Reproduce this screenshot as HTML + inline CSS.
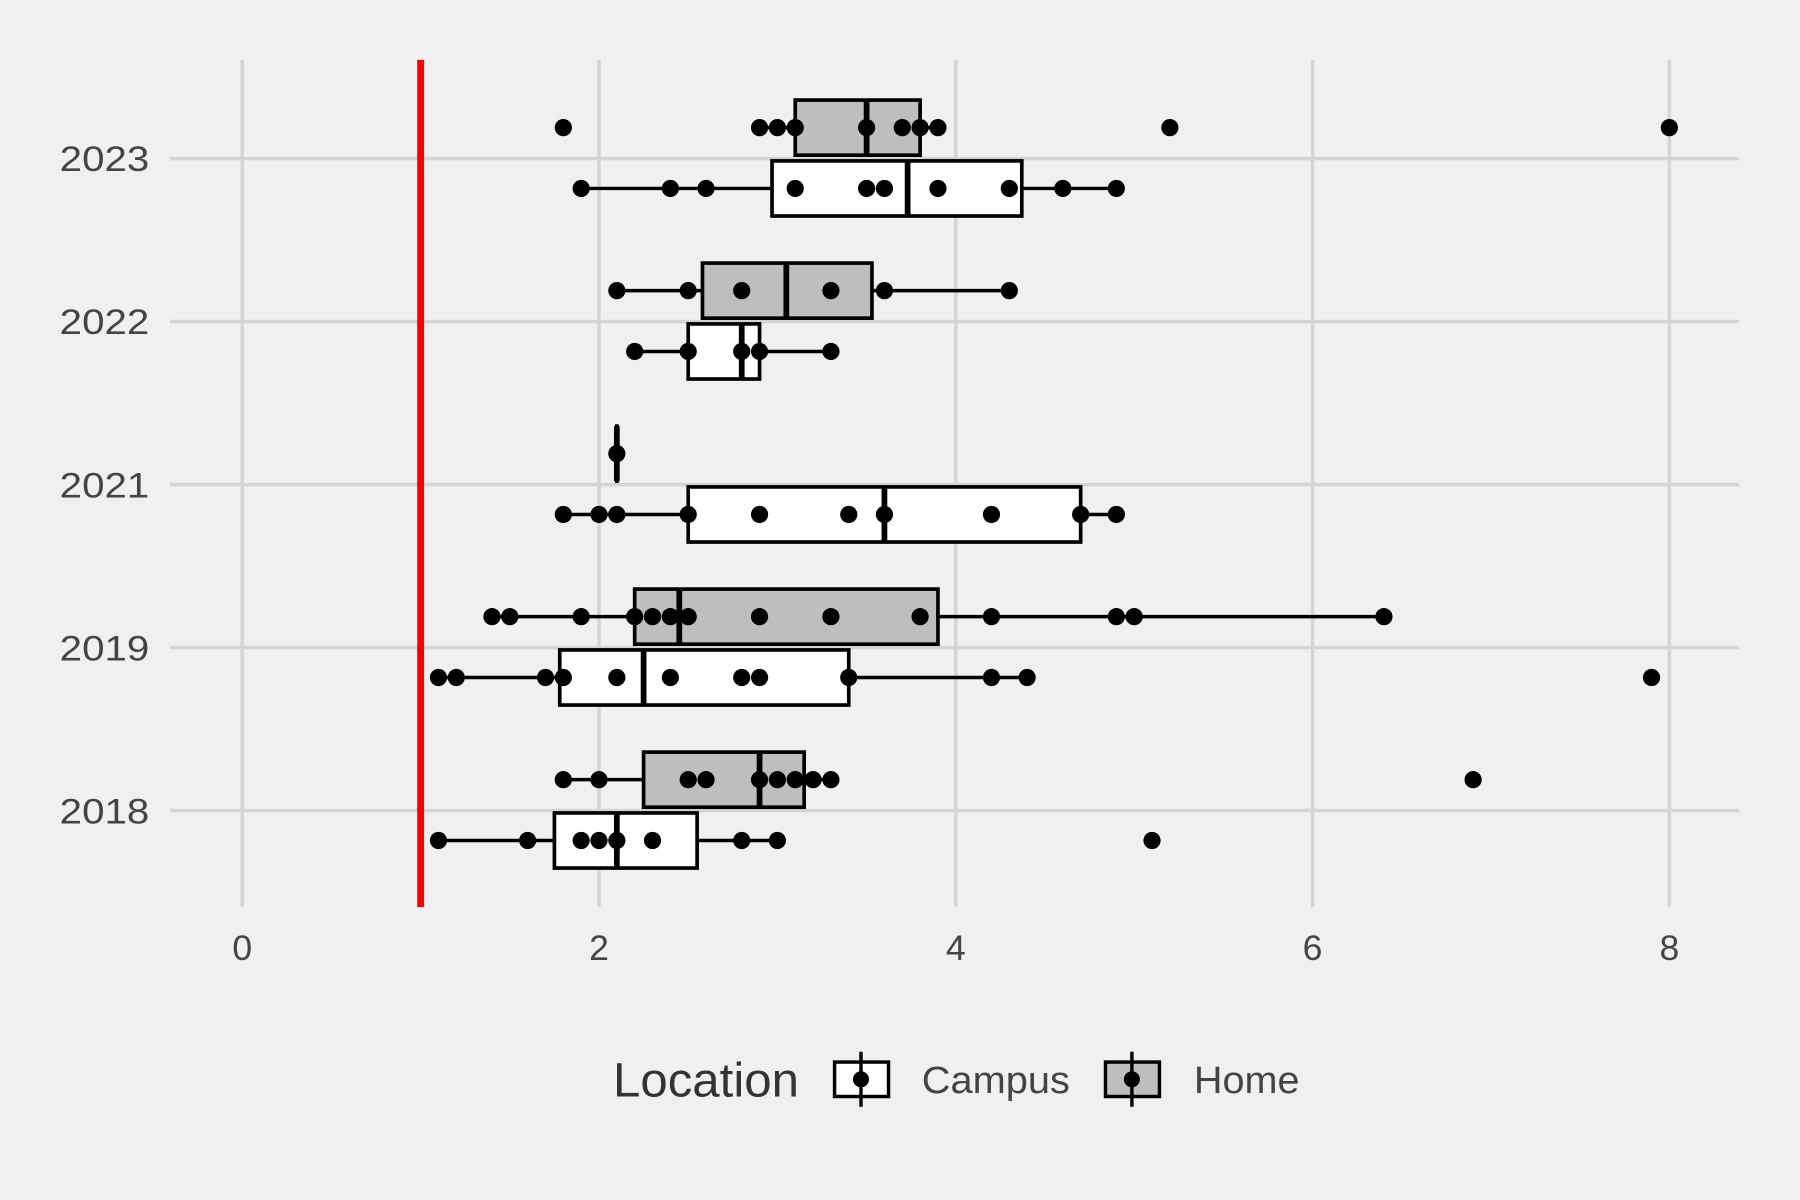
<!DOCTYPE html>
<html><head><meta charset="utf-8"><style>
html,body{margin:0;padding:0;background:#f0f0f0;}
svg{display:block;font-family:"Liberation Sans",sans-serif;}
</style></head><body>
<svg id="chart" width="1800" height="1200" viewBox="0 0 1568 1045" xmlns="http://www.w3.org/2000/svg">
<rect x="0" y="0" width="1568" height="1045" fill="#f0f0f0"/>
<g id="grid"></g>
<g id="marks"></g>
<g id="axes"></g>
<g id="legend">
  <text x="534" y="955" font-size="42" fill="#333" textLength="162" lengthAdjust="spacingAndGlyphs">Location</text>
  <g>
    <line x1="750" y1="916" x2="750" y2="964" stroke="#000" stroke-width="3"/>
    <rect x="727" y="925" width="47" height="30" fill="#fff" stroke="#000" stroke-width="3"/>
    <line x1="750" y1="925" x2="750" y2="955" stroke="#000" stroke-width="3"/>
    <circle cx="750" cy="940" r="7" fill="#000"/>
    <text x="803" y="952" font-size="33" fill="#444" textLength="129" lengthAdjust="spacingAndGlyphs">Campus</text>
  </g>
  <g>
    <line x1="986" y1="916" x2="986" y2="964" stroke="#000" stroke-width="3"/>
    <rect x="963" y="925" width="47" height="30" fill="#bebebe" stroke="#000" stroke-width="3"/>
    <line x1="986" y1="925" x2="986" y2="955" stroke="#000" stroke-width="3"/>
    <circle cx="986" cy="940" r="7" fill="#000"/>
    <text x="1040" y="952" font-size="33" fill="#444" textLength="92" lengthAdjust="spacingAndGlyphs">Home</text>
  </g>
</g>
</svg>
<script>
const years = ['2018','2019','2021','2022','2023'];
const xTicks = [0,2,4,6,8];
const refLine = 1;
// box stats per year: [whiskerLo, q1, median, q3, whiskerHi]
const homeBox = [[1.8,2.25,2.9,3.15,3.3],[1.4,2.2,2.45,3.9,6.4],[2.1,2.1,2.1,2.1,2.1],[2.1,2.58,3.05,3.53,4.3],[2.9,3.1,3.5,3.8,3.9]];
const campusBox = [[1.1,1.75,2.1,2.55,3.0],[1.1,1.78,2.25,3.4,4.4],[1.8,2.5,3.6,4.7,4.9],[2.2,2.5,2.8,2.9,3.3],[1.9,2.97,3.73,4.37,4.9]];
const homePoints = [
 [1.8,2.0,2.5,2.6,2.9,3.0,3.1,3.2,3.3,6.9],
 [1.4,1.5,1.9,2.2,2.3,2.4,2.5,2.9,3.3,3.8,4.2,4.9,5.0,6.4],
 [2.1],
 [2.1,2.5,2.8,3.3,3.6,4.3],
 [1.8,2.9,3.0,3.1,3.5,3.7,3.8,3.9,5.2,8.0]];
const campusPoints = [
 [1.1,1.6,1.9,2.0,2.1,2.3,2.8,3.0,5.1],
 [1.1,1.2,1.7,1.8,2.1,2.4,2.8,2.9,3.4,4.2,4.4,7.9],
 [1.8,2.0,2.1,2.5,2.9,3.4,3.6,4.2,4.7,4.9],
 [2.2,2.5,2.8,2.9,3.3],
 [1.9,2.4,2.6,3.1,3.5,3.6,3.9,4.3,4.6,4.9]];

const NS='http://www.w3.org/2000/svg';
const X = v => 211 + v*155.4;
const Y = i => 706 - i*142;
function mk(tag, attrs, parent){const e=document.createElementNS(NS,tag);for(const k in attrs)e.setAttribute(k,attrs[k]);parent.appendChild(e);return e;}
const grid=document.getElementById('grid'), marks=document.getElementById('marks'), axes=document.getElementById('axes');
xTicks.forEach(t=>{
  const l=mk('line',{x1:X(t),x2:X(t),y1:52,y2:790,stroke:'#d4d4d4','stroke-width':3},grid);
  
  
  const tx=mk('text',{x:X(t),y:836,'font-size':31,fill:'#444','text-anchor':'middle'},axes);
  tx.textContent=t;
  
  
});
years.forEach((y,i)=>{
  const l=mk('line',{x1:148,x2:1515,y1:Y(i),y2:Y(i),stroke:'#d4d4d4','stroke-width':3},grid);
  
  
  const tx=mk('text',{x:52,y:Y(i)+11,'font-size':31,fill:'#444',textLength:78,lengthAdjust:'spacingAndGlyphs'},axes);
  tx.textContent=y;
  
  
});
function drawBox(b,yc,fill,name){
  const g=mk('g',{},marks);
  
  
  mk('line',{x1:X(b[0]),x2:X(b[1]),y1:yc,y2:yc,stroke:'#000','stroke-width':3},g);
  mk('line',{x1:X(b[3]),x2:X(b[4]),y1:yc,y2:yc,stroke:'#000','stroke-width':3},g);
  mk('rect',{x:X(b[1]),y:yc-24,width:Math.max(X(b[3])-X(b[1]),0.1),height:48,fill:fill,stroke:'#000','stroke-width':3.2},g);
  mk('line',{x1:X(b[2]),x2:X(b[2]),y1:yc-24,y2:yc+24,stroke:'#000','stroke-width':5},g);
}
function drawPts(p,yc,name){
  p.forEach(v=>{
    const c=mk('circle',{cx:X(v),cy:yc,r:7.5,fill:'#000'},marks);
    
    
  });
}
years.forEach((y,i)=>{
  drawBox(homeBox[i],Y(i)-27,'#bebebe','home-box-'+y);
  drawBox(campusBox[i],Y(i)+26,'#ffffff','campus-box-'+y);
  drawPts(homePoints[i],Y(i)-27,'home-point');
  drawPts(campusPoints[i],Y(i)+26,'campus-point');
});
const r=mk('line',{x1:X(refLine),x2:X(refLine),y1:52,y2:790,stroke:'#ff0000','stroke-width':6},marks);


</script>
</body></html>
